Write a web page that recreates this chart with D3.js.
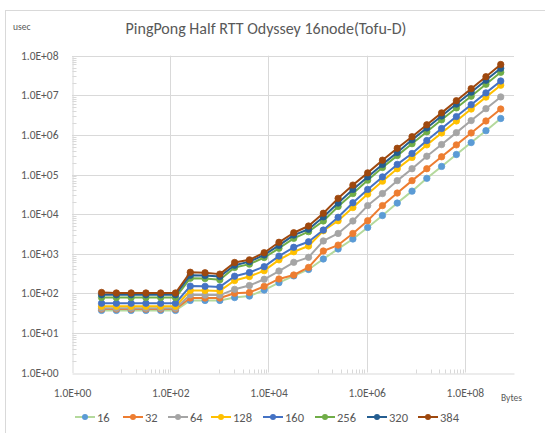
<!DOCTYPE html>
<html>
<head>
<meta charset="utf-8">
<script src="https://cdn.jsdelivr.net/npm/d3@7"></script>
<style>
  html, body { margin: 0; padding: 0; background: #fff; }
  svg text { font-family: Carlito, Calibri, "Liberation Sans", Arial, sans-serif; fill: #595959; }
</style>
</head>
<body>
<svg id="chart" width="545" height="433"></svg>
<script>
// Message sizes in bytes (2^2 .. 2^29)
const sizes = [4, 8, 16, 32, 64, 128, 256, 512, 1024, 2048, 4096, 8192, 16384, 32768,
  65536, 131072, 262144, 524288, 1048576, 2097152, 4194304, 8388608, 16777216,
  33554432, 67108864, 134217728, 268435456, 536870912];

// Half round-trip time (usec) per process count
const s16  = [37, 37, 37, 37, 37, 37, 66, 66, 66, 78, 85, 121, 186, 275, 400, 735, 1320, 2350, 4600, 9200, 19000, 38000, 80000, 160000, 320000, 640000, 1280000, 2600000];
const s32  = [40, 40, 40, 40, 40, 40, 76, 76, 76, 100, 105, 150, 230, 290, 450, 1170, 1650, 3250, 6800, 16400, 34000, 70000, 140000, 280000, 560000, 1120000, 2250000, 4500000];
const s64  = [42, 42, 42, 42, 42, 42, 92, 90, 90, 126, 157, 226, 365, 605, 810, 2100, 3250, 6700, 16400, 33000, 70000, 140000, 290000, 570000, 1140000, 2300000, 4600000, 9100000];
const s128 = [47, 47, 47, 47, 47, 47, 118, 118, 115, 210, 265, 373, 700, 1120, 1560, 3800, 6800, 14600, 32000, 68000, 140000, 270000, 560000, 1120000, 2250000, 4500000, 9000000, 18000000];
const s160 = [56, 56, 56, 56, 56, 56, 152, 150, 145, 270, 335, 470, 870, 1450, 2000, 3950, 8300, 19300, 42000, 87000, 180000, 340000, 720000, 1450000, 2900000, 5800000, 11500000, 23000000];
const s256 = [78, 78, 78, 78, 78, 78, 240, 235, 220, 450, 545, 800, 1370, 2440, 3600, 6700, 15600, 33000, 72000, 150000, 300000, 600000, 1200000, 2400000, 4800000, 9500000, 19000000, 38000000];
const s320 = [92, 92, 92, 92, 92, 92, 285, 280, 265, 510, 630, 930, 1620, 2950, 4150, 8500, 19000, 42000, 87000, 180000, 360000, 750000, 1500000, 3000000, 6000000, 12000000, 24000000, 48000000];
const s384 = [105, 102, 102, 102, 102, 102, 340, 330, 305, 600, 700, 1060, 1940, 3380, 5000, 10500, 25000, 54000, 110000, 230000, 460000, 900000, 1800000, 3600000, 7300000, 14700000, 29500000, 60000000];

const seriesNames = ["16", "32", "64", "128", "160", "256", "320", "384"];
const seriesValues = [s16, s32, s64, s128, s160, s256, s320, s384];
const lineColors   = ["#b4d99c", "#ED7D31", "#A5A5A5", "#FFC000", "#4472C4", "#70AD47", "#255E91", "#9E480E"];
const markerColors = ["#5B9BD5", "#ED7D31", "#A5A5A5", "#FFC000", "#4472C4", "#70AD47", "#255E91", "#9E480E"];

const xTicks = [1e0, 1e2, 1e4, 1e6, 1e8];
const yTicks = [1e0, 1e1, 1e2, 1e3, 1e4, 1e5, 1e6, 1e7, 1e8];
const fmtExp = v => "1.0E+" + String(Math.round(Math.log10(v))).padStart(2, "0");

const svg = d3.select("#chart");
const grid = "#d9d9d9";

// chart frame
svg.append("rect").attr("x", 5.5).attr("y", 10.5).attr("width", 545).attr("height", 430)
  .attr("fill", "none").attr("stroke", grid);

const x = d3.scaleLog().domain([1, 1e9]).range([72, 514]);
const y = d3.scaleLog().domain([1, 1e8]).range([372.5, 55.7]);

// horizontal gridlines
svg.append("g").selectAll("line").data(yTicks.slice(1)).join("line")
  .attr("x1", x(1)).attr("x2", x(1e9))
  .attr("y1", d => Math.round(y(d)) + 0.5).attr("y2", d => Math.round(y(d)) + 0.5)
  .attr("stroke", grid);
// vertical gridlines
svg.append("g").selectAll("line").data(xTicks.slice(1)).join("line")
  .attr("y1", y(1)).attr("y2", y(1e8))
  .attr("x1", d => Math.round(x(d)) + 0.5).attr("x2", d => Math.round(x(d)) + 0.5)
  .attr("stroke", grid);

// axes: lines and labels from d3 axis generators
const yAxis = d3.axisLeft(y).tickValues(yTicks).tickFormat(fmtExp).tickSize(0).tickPadding(14);
const gy = svg.append("g").attr("transform", `translate(${Math.round(x(1)) + 0.5},0)`).call(yAxis);
gy.select(".domain").attr("stroke", grid);
gy.selectAll("text").attr("font-size", 11.5).attr("fill", "#595959");

const xAxis = d3.axisBottom(x).tickValues(xTicks).tickFormat(fmtExp).tickSize(0).tickPadding(15);
const gx = svg.append("g").attr("transform", `translate(0,${Math.round(y(1)) + 0.5})`).call(xAxis);
gx.select(".domain").attr("stroke", grid);
gx.selectAll("text").attr("font-size", 11.5).attr("fill", "#595959");

// minor ticks, drawn inside the plot area
const yMinor = [];
for (let e = 0; e < 8; e++) for (let m = 2; m <= 9; m++) yMinor.push(m * Math.pow(10, e));
svg.append("g").selectAll("line").data(yMinor).join("line")
  .attr("x1", Math.round(x(1)) + 0.5).attr("x2", Math.round(x(1)) + 4.5)
  .attr("y1", d => Math.round(y(d)) + 0.5).attr("y2", d => Math.round(y(d)) + 0.5)
  .attr("stroke", grid);
const xMinor = [];
for (let e = 0; e < 9; e += 2) for (let m = 10; m <= 90; m += 10) xMinor.push(m * Math.pow(10, e));
svg.append("g").selectAll("line").data(xMinor.filter(d => d < 1e9)).join("line")
  .attr("y1", Math.round(y(1)) + 0.5).attr("y2", Math.round(y(1)) - 3.5)
  .attr("x1", d => Math.round(x(d)) + 0.5).attr("x2", d => Math.round(x(d)) + 0.5)
  .attr("stroke", grid);

// series lines with circle markers
const line = d3.line().x(d => x(d[0])).y(d => y(d[1]));
seriesValues.forEach((vals, i) => {
  const pts = sizes.map((s, k) => [s, vals[k]]);
  const g = svg.append("g");
  g.append("path").datum(pts).attr("d", line).attr("fill", "none")
    .attr("stroke", lineColors[i]).attr("stroke-width", 2).attr("stroke-linejoin", "round");
  g.selectAll("circle").data(pts).join("circle")
    .attr("cx", d => x(d[0])).attr("cy", d => y(d[1])).attr("r", 3.2)
    .attr("fill", markerColors[i]).attr("stroke", markerColors[i]).attr("stroke-width", 0.8);
});

// titles
svg.append("text").attr("x", 266).attr("y", 34).attr("text-anchor", "middle")
  .attr("font-size", 16).text("PingPong Half RTT Odyssey 16node(Tofu-D)");
svg.append("text").attr("x", 13).attr("y", 30).attr("font-size", 9.5).text("usec");
svg.append("text").attr("x", 501).attr("y", 401).attr("font-size", 9.5).text("Bytes");

// legend
const legendX = [75, 123, 168, 211, 263, 315, 367, 418];
const lg = svg.append("g").attr("transform", "translate(0,417)");
seriesNames.forEach((name, i) => {
  const item = lg.append("g").attr("transform", `translate(${legendX[i]},0)`);
  item.append("line").attr("x1", 0).attr("x2", 20).attr("y1", 0).attr("y2", 0)
    .attr("stroke", lineColors[i]).attr("stroke-width", 2);
  item.append("circle").attr("cx", 10).attr("cy", 0).attr("r", 3).attr("fill", markerColors[i]);
  item.append("text").attr("x", 22).attr("y", 4.5).attr("font-size", 12.5).text(name);
});
</script>
</body>
</html>
